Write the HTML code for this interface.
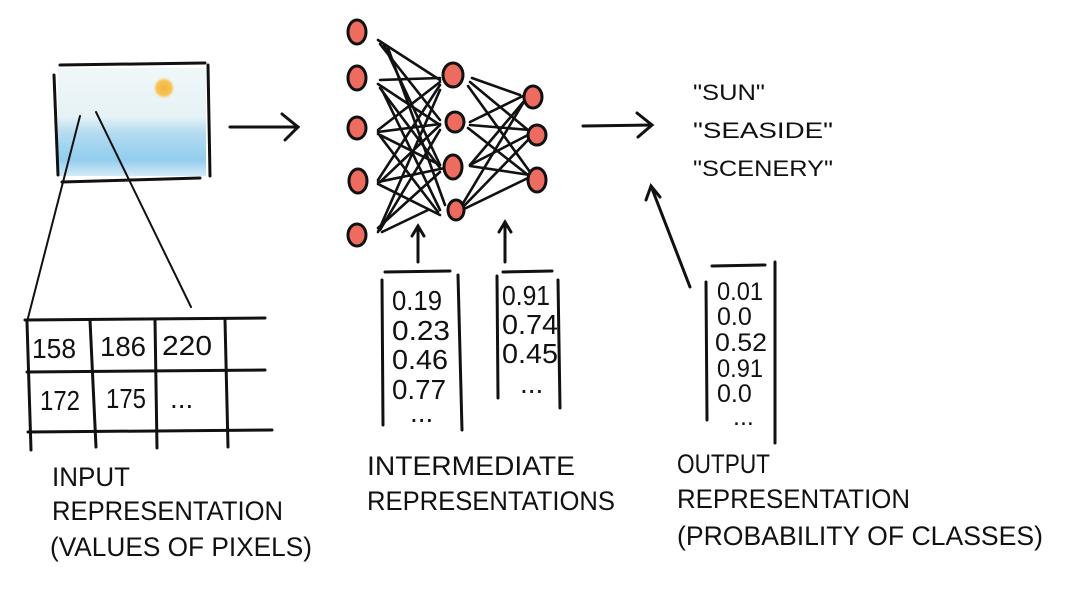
<!DOCTYPE html>
<html><head><meta charset="utf-8"><style>
html,body{margin:0;padding:0;background:#fff;}
svg{display:block;}
text{font-family:"Liberation Sans",sans-serif;fill:#111;}
.lb{font-size:27px;}
.n{font-size:28px;}
</style></head><body>
<svg width="1070" height="590" viewBox="0 0 1070 590" xmlns="http://www.w3.org/2000/svg">
<defs>
<radialGradient id="sun"><stop offset="0" stop-color="#f4b43c"/><stop offset="0.7" stop-color="#f6c45a"/><stop offset="1" stop-color="#fbe3b0" stop-opacity="0"/></radialGradient>
<linearGradient id="sky" x1="0" y1="0" x2="0" y2="1"><stop offset="0" stop-color="#f0f7f9"/><stop offset="0.45" stop-color="#e6f2f6"/><stop offset="0.6" stop-color="#b4dcf0"/><stop offset="0.85" stop-color="#92cdee"/><stop offset="1" stop-color="#d5ebf6"/></linearGradient>
</defs>
<g stroke="#111" stroke-width="3" fill="none" stroke-linecap="round">
<rect x="58" y="68" width="148" height="108" fill="url(#sky)" stroke="none"/>
<circle cx="164" cy="88" r="11" fill="url(#sun)" stroke="none"/>
<path d="M60 65 L205 63"/><path d="M54 75 L58 175"/><path d="M208 65 L210 176"/><path d="M62 182 L200 178"/>
<path d="M80 116 L28 318" stroke-width="2"/><path d="M96 112 L191 307" stroke-width="2"/>
<path d="M25 320 L265 318"/><path d="M27 372 L265 370"/><path d="M28 432 L272 430"/>
<path d="M27 322 L31 450"/><path d="M90 320 L96 447"/><path d="M155 320 L157 448"/><path d="M225 320 L228 447"/>
<path d="M230 127 L298 127"/><path d="M282 114 L298 127 L285 140"/>
<path d="M583 126 L652 125"/><path d="M637 113 L652 125 L638 137"/>
<path d="M690 287 L651 186"/><path d="M646 200 L651 186 L660 197"/>
<path d="M418 262 L418 226"/><path d="M412 236 L418 226 L424 236"/>
<path d="M505 262 L505 222"/><path d="M499 232 L505 222 L511 232"/>
<g stroke-width="2.6">
<path d="M378 40 L440 80"/><path d="M380 44 L440 120"/><path d="M384 45 L440 165"/><path d="M388 48 L445 205"/>
<path d="M380 80 L440 78"/><path d="M378 84 L440 125"/><path d="M380 88 L440 168"/><path d="M382 90 L440 210"/>
<path d="M378 130 L440 82"/><path d="M378 132 L440 124"/><path d="M378 134 L440 165"/><path d="M380 136 L438 212"/>
<path d="M378 180 L440 85"/><path d="M380 182 L440 125"/><path d="M378 182 L445 168"/><path d="M378 184 L440 215"/>
<path d="M378 232 L440 90"/><path d="M380 230 L440 130"/><path d="M378 228 L440 172"/><path d="M382 232 L428 210"/>
<path d="M472 78 L520 95"/><path d="M470 82 L528 130"/><path d="M468 86 L530 172"/>
<path d="M470 122 L525 95"/><path d="M470 125 L530 130"/><path d="M468 128 L528 175"/>
<path d="M470 165 L525 100"/><path d="M470 165 L528 135"/><path d="M470 166 L530 175"/>
<path d="M462 205 L525 100"/><path d="M462 208 L528 140"/><path d="M462 210 L528 178"/>
</g>
<path d="M385 272 L450 271"/><path d="M382 280 L383 425"/><path d="M458 275 L462 430"/>
<path d="M503 272 L552 271"/><path d="M497 276 L498 398"/><path d="M558 280 L560 408"/>
<path d="M712 266 L765 265"/><path d="M706 282 L707 420"/><path d="M775 262 L775 443"/>
</g>
<g fill="#ee6b5f" stroke="#111" stroke-width="3">
<ellipse cx="357" cy="32" rx="9" ry="12"/><ellipse cx="357" cy="78" rx="9" ry="12"/><ellipse cx="357" cy="128" rx="9" ry="11"/><ellipse cx="358" cy="181" rx="9" ry="12"/><ellipse cx="357" cy="235" rx="9" ry="11"/>
<ellipse cx="453" cy="75" rx="10" ry="12"/><ellipse cx="455" cy="122" rx="9" ry="10"/><ellipse cx="453" cy="167" rx="9" ry="12"/><ellipse cx="456" cy="210" rx="8" ry="10"/>
<ellipse cx="533" cy="97" rx="9" ry="11"/><ellipse cx="537" cy="135" rx="9" ry="10"/><ellipse cx="537" cy="180" rx="9" ry="12"/>
</g>
<g lengthAdjust="spacingAndGlyphs">
<text class="n" x="32" y="358" textLength="44" lengthAdjust="spacingAndGlyphs">158</text><text class="n" x="100" y="356" textLength="46" lengthAdjust="spacingAndGlyphs">186</text><text class="n" x="162" y="355" textLength="50" lengthAdjust="spacingAndGlyphs">220</text>
<text class="n" x="40" y="410" textLength="40" lengthAdjust="spacingAndGlyphs">172</text><text class="n" x="106" y="408" textLength="40" lengthAdjust="spacingAndGlyphs">175</text><text class="n" x="170" y="408">...</text>
</g>
<text class="n" x="392" y="310" textLength="50" lengthAdjust="spacingAndGlyphs">0.19</text><text class="n" x="392" y="340" textLength="58" lengthAdjust="spacingAndGlyphs">0.23</text><text class="n" x="392" y="369" textLength="56" lengthAdjust="spacingAndGlyphs">0.46</text><text class="n" x="392" y="399" textLength="54" lengthAdjust="spacingAndGlyphs">0.77</text><text class="n" x="410" y="422">...</text>
<text class="n" x="502" y="305" textLength="48" lengthAdjust="spacingAndGlyphs">0.91</text><text class="n" x="502" y="334" textLength="56" lengthAdjust="spacingAndGlyphs">0.74</text><text class="n" x="502" y="363" textLength="56" lengthAdjust="spacingAndGlyphs">0.45</text><text class="n" x="520" y="393">...</text>
<g style="font-size:25px">
<text x="717" y="300" textLength="46" lengthAdjust="spacingAndGlyphs">0.01</text><text x="717" y="325">0.0</text><text x="715" y="351" textLength="52" lengthAdjust="spacingAndGlyphs">0.52</text><text x="717" y="377" textLength="46" lengthAdjust="spacingAndGlyphs">0.91</text><text x="717" y="402">0.0</text><text x="733" y="425">...</text>
</g>
<text x="693" y="100" style="font-size:22px" textLength="72" lengthAdjust="spacingAndGlyphs">"SUN"</text>
<text x="693" y="138" style="font-size:22px" textLength="140" lengthAdjust="spacingAndGlyphs">"SEASIDE"</text>
<text x="693" y="176" style="font-size:22px" textLength="140" lengthAdjust="spacingAndGlyphs">"SCENERY"</text>
<text class="lb" x="52" y="486" textLength="78" lengthAdjust="spacingAndGlyphs">INPUT</text>
<text class="lb" x="52" y="520" textLength="231" lengthAdjust="spacingAndGlyphs">REPRESENTATION</text>
<text class="lb" x="50" y="556" textLength="262" lengthAdjust="spacingAndGlyphs">(VALUES OF PIXELS)</text>
<text class="lb" x="367" y="475" textLength="208" lengthAdjust="spacingAndGlyphs">INTERMEDIATE</text>
<text class="lb" x="367" y="510" textLength="248" lengthAdjust="spacingAndGlyphs">REPRESENTATIONS</text>
<text class="lb" x="677" y="473" textLength="93" lengthAdjust="spacingAndGlyphs">OUTPUT</text>
<text class="lb" x="677" y="508" textLength="233" lengthAdjust="spacingAndGlyphs">REPRESENTATION</text>
<text class="lb" x="677" y="545" textLength="366" lengthAdjust="spacingAndGlyphs">(PROBABILITY OF CLASSES)</text>
</svg>
</body></html>
